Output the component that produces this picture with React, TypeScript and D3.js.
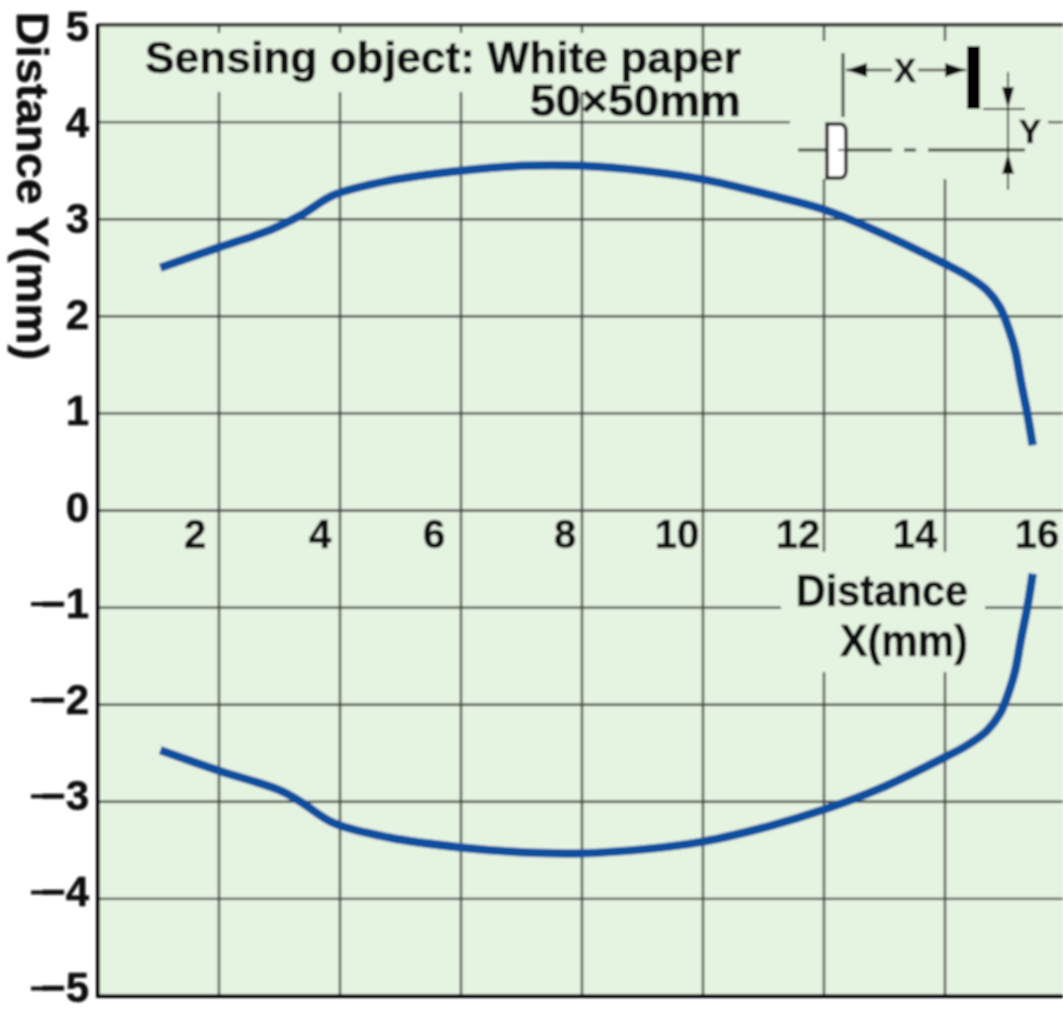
import React from "react";
import * as d3 from "d3";

// values
const xTicks = [2, 4, 6, 8, 10, 12, 14];
const xTickLabels = [2, 4, 6, 8, 10, 12, 14, 16];
const yTicks = [4, 3, 2, 1, 0, -1, -2, -3, -4];
const yTickLabels = [5, 4, 3, 2, 1, 0, -1, -2, -3, -4, -5];

const upperX = [1.03, 2, 2.85, 3.35, 3.9, 4.83, 6, 7, 8, 9, 10, 11.1, 12, 12.9, 14, 14.36, 14.69, 14.91, 15.07, 15.16, 15.26, 15.36, 15.45];
const upperY = [2.5, 2.71, 2.89, 3.04, 3.25, 3.4, 3.5, 3.55, 3.55, 3.5, 3.41, 3.25, 3.1, 2.87, 2.54, 2.42, 2.27, 2.09, 1.84, 1.65, 1.31, 1.0, 0.67];
const lowerX = [1.03, 2, 3, 3.35, 3.9, 4.83, 6, 7, 8, 9, 10, 11.1, 12, 12.9, 14, 14.36, 14.69, 14.91, 15.07, 15.16, 15.26, 15.36, 15.45];
const lowerY = [-2.47, -2.68, -2.88, -3.0, -3.22, -3.37, -3.47, -3.52, -3.53, -3.49, -3.41, -3.25, -3.08, -2.87, -2.54, -2.42, -2.27, -2.09, -1.84, -1.65, -1.31, -1.0, -0.65];

const WIDTH = 1063;
const HEIGHT = 1010;
const BG = "#e5f3e1";
const GRID = "#414640";
const BLUE = "#0b4f9e";
const INK = "#111";
const FONT = "'Liberation Sans', Arial, sans-serif";

const x = d3.scaleLinear().domain([0, 16]).range([98, 1066]);
const y = d3.scaleLinear().domain([-5, 5]).range([996, 25]);
// the printed numbers sit a little inside the plot's extent
const labelY = d3.scaleLinear().domain([-5, 5]).range([988, 27]);

const curve = d3
  .line<number>()
  .x((d) => x(d))
  .curve(d3.curveCatmullRom.alpha(0.5));

function pathFor(xs: number[], ys: number[]) {
  return curve.y((_, i) => y(ys[i]))(xs) as string;
}

const xLabelPos: Record<number, number> = { 2: 195, 4: 320, 6: 434, 8: 565, 10: 677, 12: 798, 14: 915, 16: 1037 };

export default function App() {
  return (
    <svg
      width={WIDTH}
      height={HEIGHT}
      style={{ position: "absolute", left: 0, top: 0, background: "#fff" }}
      fontFamily={FONT}
    >
      <defs>
        <filter id="soft" x="-2%" y="-2%" width="104%" height="104%">
          <feGaussianBlur stdDeviation="0.8" />
        </filter>
      </defs>
      <g filter="url(#soft)">
        <rect x={x(0)} y={y(5)} width={WIDTH - x(0)} height={y(-5) - y(5)} fill={BG} />

        {/* grid */}
        {yTicks.map((v) => (
          <line key={v} x1={x(0)} x2={WIDTH} y1={y(v)} y2={y(v)} stroke={GRID} strokeWidth={2.4} />
        ))}
        {xTicks.map((v) => (
          <line key={v} x1={x(v)} x2={x(v)} y1={y(5)} y2={y(-5)} stroke={GRID} strokeWidth={2.4} />
        ))}

        {/* knock-outs behind the texts */}
        <rect x={x(1.5)} y={33} width={x(8) - x(1.5) + 5} height={59} fill={BG} />
        <rect x={790} y={41} width={258} height={138} fill={BG} />
        <rect x={781} y={552} width={204} height={120} fill={BG} />

        {/* frame */}
        <line x1={x(0)} x2={WIDTH} y1={y(5)} y2={y(5)} stroke="#33362f" strokeWidth={3.5} />
        <line x1={x(0)} x2={x(0)} y1={y(5) - 1} y2={y(-5) + 2} stroke="#000" strokeWidth={4} />
        <line x1={x(0)} x2={WIDTH} y1={y(-5)} y2={y(-5)} stroke="#000" strokeWidth={4} />

        {/* curves */}
        <path d={pathFor(upperX, upperY)} fill="none" stroke={BLUE} strokeWidth={8.5} />
        <path d={pathFor(lowerX, lowerY)} fill="none" stroke={BLUE} strokeWidth={8.5} />

        {/* tick labels */}
        <g fontSize={42} fontWeight={700} fill={INK} stroke={INK} strokeWidth={0.5}>
          {yTickLabels.map((v) => (
            <text key={v} x={89} y={labelY(v) + 14} textAnchor="end">
              {v < 0 ? `\u2212${-v}` : v}
            </text>
          ))}
          {/* the printed minus is longer than the font's */}
          {yTickLabels.filter((v) => v < 0).map((v) => (
            <line key={v} x1={31} x2={48} y1={labelY(v) + 0.5} y2={labelY(v) + 0.5} strokeWidth={4} />
          ))}
          {xTickLabels.map((v) => (
            <text key={v} x={xLabelPos[v]} y={548} textAnchor="middle" fontSize={40}>
              {v}
            </text>
          ))}
        </g>

        {/* titles */}
        <g fontSize={45} fontWeight={700} fill={INK} stroke={INK} strokeWidth={0.6}>
          <text x={145} y={73} textLength={596} lengthAdjust="spacingAndGlyphs">Sensing object: White paper</text>
          <text x={530} y={116} textLength={211} lengthAdjust="spacingAndGlyphs">50×50mm</text>
          <text x={796} y={606} textLength={172} lengthAdjust="spacingAndGlyphs">Distance</text>
          <text x={840} y={656} textLength={128} lengthAdjust="spacingAndGlyphs">X(mm)</text>
          <text transform="translate(17,12) rotate(90)" textLength={348} lengthAdjust="spacingAndGlyphs">Distance Y(mm)</text>
        </g>

        {/* sensor sketch */}
        <g stroke={GRID} fill="none">
          <line x1={843} x2={843} y1={53} y2={117} strokeWidth={3} />
          <line x1={846} x2={892} y1={70} y2={70} strokeWidth={2.5} />
          <line x1={918} x2={966} y1={70} y2={70} strokeWidth={2.5} />
          <line x1={798} x2={892} y1={150} y2={150} strokeWidth={3} />
          <line x1={904} x2={916} y1={150} y2={150} strokeWidth={3} />
          <line x1={928} x2={1025} y1={150} y2={150} strokeWidth={3} />
          <line x1={983} x2={1025} y1={109} y2={109} strokeWidth={2} stroke="#222" />
          <line x1={1008} x2={1008} y1={72} y2={190} strokeWidth={2} stroke="#222" />
        </g>
        <path d="M846,70L867,63L867,77Z" fill={INK} />
        <path d="M966,70L945,63L945,77Z" fill={INK} />
        <path d="M1008,109L1002,87L1014,87Z" fill={INK} />
        <path d="M1008,153L1002,174L1014,174Z" fill={INK} />
        <rect x={967} y={46} width={13} height={63} fill="#000" />
        <path d="M827,124H840Q846,124 846,132V170Q846,178 840,178H827Z" fill="#fff" stroke="#222" strokeWidth={3.5} />
        <line x1={838} x2={846} y1={150} y2={150} stroke={GRID} strokeWidth={2} />
        <text x={905} y={82} textAnchor="middle" fontSize={33} fontWeight={700} fill={INK} stroke={INK} strokeWidth={0.5}>X</text>
        <text x={1030} y={143} textAnchor="middle" fontSize={33} fontWeight={700} fill={INK} stroke={INK} strokeWidth={0.5}>Y</text>
      </g>
    </svg>
  );
}
